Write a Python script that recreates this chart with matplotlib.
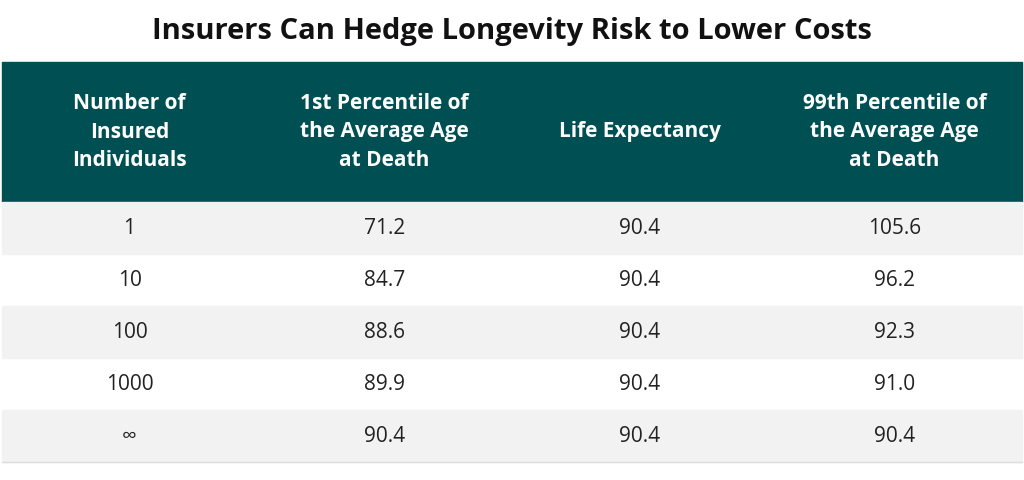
import matplotlib.pyplot as plt
from matplotlib.patches import Rectangle

title = "Insurers Can Hedge Longevity Risk to Lower Costs"
headers = [
    "Number of\nInsured\nIndividuals",
    "1st Percentile of\nthe Average Age\nat Death",
    "Life Expectancy",
    "99th Percentile of\nthe Average Age\nat Death",
]
individuals = ["1", "10", "100", "1000", "\u221e"]
p1 = ["71.2", "84.7", "88.6", "89.9", "90.4"]
life_exp = ["90.4", "90.4", "90.4", "90.4", "90.4"]
p99 = ["105.6", "96.2", "92.3", "91.0", "90.4"]

fonts = ["Open Sans", "DejaVu Sans"]
header_color = "#004f52"
stripe_color = "#f2f2f2"

fig = plt.figure(figsize=(10.24, 4.8), dpi=100)
ax = fig.add_axes([0, 0, 1, 1])
ax.set_xlim(0, 1024)
ax.set_ylim(480, 0)
ax.axis("off")

left, right = 2, 1022
header_top, header_bottom = 62, 202
row_h = 52
col_w = (right - left) / len(headers)

ax.text(512, 32, title, ha="center", va="center", fontsize=21,
        fontweight="bold", family=fonts, color="#111111")

ax.add_patch(Rectangle((left, header_top), right - left,
                       header_bottom - header_top, color=header_color))
for i, h in enumerate(headers):
    ax.text(left + col_w * (i + 0.5), (header_top + header_bottom) / 2, h,
            ha="center", va="center", fontsize=15, fontweight="bold",
            color="white", family=fonts, linespacing=1.45)

columns = [individuals, p1, life_exp, p99]
for r in range(len(individuals)):
    y0 = header_bottom + r * row_h
    if r % 2 == 0:
        ax.add_patch(Rectangle((left, y0), right - left, row_h,
                               color=stripe_color))
    for c, col in enumerate(columns):
        ax.text(left + col_w * (c + 0.5), y0 + row_h / 2, col[r],
                ha="center", va="center", fontsize=15, color="#222222",
                family=fonts)

bottom = header_bottom + len(individuals) * row_h
ax.plot([left, right], [bottom, bottom], color="#dddddd", lw=1)

fig.savefig("out.png", dpi=100)
